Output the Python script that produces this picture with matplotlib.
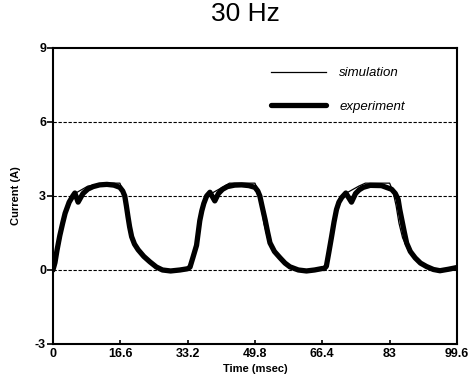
import matplotlib
matplotlib.use("Agg")
import matplotlib.pyplot as plt

# Measured coil current, three cycles at 30 Hz
exp_time = [0.0, 0.5, 1.0, 1.7, 2.4, 3.0, 4.0, 4.9, 5.4, 6.2, 7.4, 8.6, 9.9, 11.5, 13.3, 15.0,
            16.5, 17.2, 17.7, 18.1, 18.5, 18.9, 19.4, 20.1, 21.0, 22.4, 23.9, 25.5, 27.0,
            29.0, 31.3, 33.2,
            33.8, 34.5, 35.4, 35.8, 36.2, 36.7, 37.2, 37.9, 38.7, 39.9, 40.8, 41.8, 43.0,
            44.8, 46.5, 48.3, 49.8, 50.5, 51.0, 51.6, 52.3, 52.9, 53.5, 54.6, 56.0, 57.2,
            58.4, 60.5, 62.5, 64.5, 66.4,
            66.9, 67.4, 68.0, 68.7, 69.3, 69.9, 70.5, 71.2, 72.2, 73.6, 74.6, 75.5, 76.5,
            78.2, 81.0, 83.5, 84.4, 85.1, 85.5, 86.0, 86.6, 87.2, 88.1, 89.3, 90.6, 92.1,
            93.8, 95.4, 97.5, 99.6]
exp_current = [0.0, 0.3, 0.8, 1.4, 1.9, 2.3, 2.75, 3.0, 3.12, 2.75, 3.1, 3.28, 3.38, 3.45, 3.47,
               3.44, 3.35, 3.2, 3.0, 2.6, 2.16, 1.75, 1.35, 1.05, 0.82, 0.55, 0.33, 0.12, 0.0,
               -0.04, 0.0, 0.05,
               0.12, 0.5, 1.0, 1.5, 2.0, 2.4, 2.7, 3.0, 3.15, 2.8, 3.1, 3.27, 3.38,
               3.44, 3.45, 3.42, 3.35, 3.2, 3.0, 2.55, 2.04, 1.55, 1.1, 0.75, 0.49, 0.28,
               0.13, 0.0, -0.04, 0.0, 0.06,
               0.06, 0.15, 0.7, 1.36, 1.95, 2.45, 2.75, 2.94, 3.12, 2.75, 3.1, 3.25, 3.35,
               3.43, 3.42, 3.27, 3.1, 2.86, 2.45, 2.04, 1.55, 1.09, 0.75, 0.49, 0.28, 0.14,
               0.02, -0.03, 0.03, 0.1]

# Simulated coil current
sim_time = [0.0, 0.8, 1.6, 2.4, 3.2, 4.2, 4.9, 8.6, 12.8, 16.5, 17.3, 18.0, 18.7, 19.6,
            21.0, 23.0, 25.0, 27.0, 29.5, 32.0, 33.6,
            34.2, 35.0, 35.9, 36.8, 37.9, 38.5, 42.3, 43.5, 49.8, 50.6, 51.3, 52.0, 52.9,
            54.3, 56.3, 58.3, 60.3, 62.8, 65.3, 66.8,
            67.4, 68.2, 69.0, 69.8, 70.9, 71.6, 75.4, 77.0, 83.0, 83.8, 84.6, 85.3, 86.2,
            87.6, 89.6, 91.6, 93.6, 96.0, 98.5, 99.6]
sim_current = [0.0, 0.4, 1.05, 1.75, 2.35, 2.8, 3.05, 3.4, 3.52, 3.52, 3.2, 2.6, 1.9, 1.3,
               0.8, 0.4, 0.15, 0.02, -0.03, 0.0, 0.05,
               0.3, 0.9, 1.7, 2.4, 2.9, 3.05, 3.4, 3.52, 3.52, 3.2, 2.6, 1.9, 1.3,
               0.8, 0.4, 0.15, 0.02, -0.03, 0.0, 0.05,
               0.3, 0.9, 1.7, 2.4, 2.9, 3.05, 3.4, 3.52, 3.52, 3.2, 2.6, 1.9, 1.3,
               0.8, 0.4, 0.15, 0.02, -0.03, 0.0, 0.05]

x_ticks = [0, 16.6, 33.2, 49.8, 66.4, 83, 99.6]
x_tick_labels = ["0", "16.6", "33.2", "49.8", "66.4", "83", "99.6"]
y_ticks = [-3, 0, 3, 6, 9]
y_tick_labels = ["-3", "0", "3", "6", "9"]
grid_levels = [0, 3, 6]

plt.rcParams["font.family"] = ["Liberation Sans", "DejaVu Sans"]

fig = plt.figure(figsize=(4.77, 3.89), dpi=100)
ax = fig.add_axes([0.111, 0.1157, 0.847, 0.761])

for lvl in grid_levels:
    ax.axhline(lvl, color="black", lw=0.8, ls=(0, (3, 1.5)), zorder=1)

ax.plot(exp_time, exp_current, color="black", lw=3.8, solid_joinstyle="round",
        solid_capstyle="round", label="experiment", zorder=2)
ax.plot(sim_time, sim_current, color="black", lw=0.9, label="simulation", zorder=3)

ax.set_xlim(0, 99.6)
ax.set_ylim(-3, 9)
ax.set_xticks(x_ticks)
ax.set_xticklabels(x_tick_labels, fontsize=9, fontweight="bold")
ax.set_yticks(y_ticks)
ax.set_yticklabels(y_tick_labels, fontsize=9, fontweight="bold")
ax.tick_params(axis="x", direction="in", length=3, width=1.2, pad=3)
ax.tick_params(axis="y", direction="out", length=4, width=1.2, pad=1)
for s in ax.spines.values():
    s.set_linewidth(1.5)

ax.set_xlabel("Time (msec)", fontsize=8, fontweight="bold", labelpad=3)
ax.set_ylabel("Current (A)", fontsize=8, fontweight="bold", labelpad=10)
fig.suptitle("30 Hz", fontsize=19, x=0.515, y=0.995)

handles, labels = ax.get_legend_handles_labels()
leg = ax.legend([handles[1], handles[0]], [labels[1], labels[0]],
                loc="upper right", bbox_to_anchor=(0.9, 0.975), frameon=False,
                handlelength=4.2, handletextpad=1.0, labelspacing=1.6,
                prop={"size": 9.5, "style": "italic"})

fig.savefig("out.png", dpi=100)
